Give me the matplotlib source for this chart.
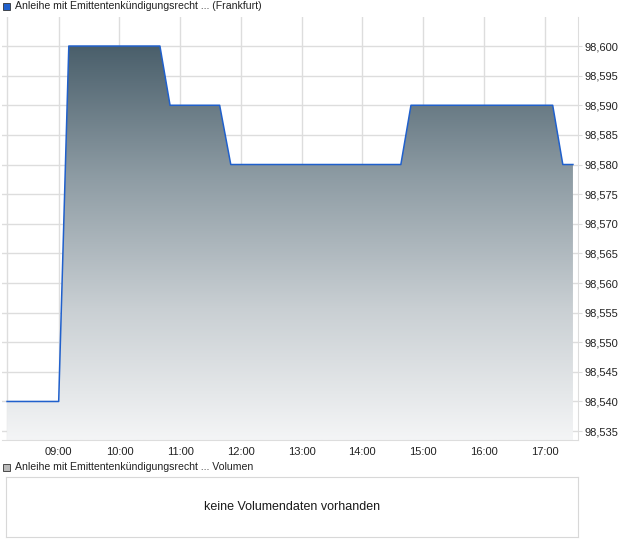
import matplotlib.pyplot as plt
import matplotlib.dates as mdates
import numpy as np
from matplotlib.colors import LinearSegmentedColormap
from datetime import datetime

plt.rcParams['font.family'] = ['Liberation Sans', 'DejaVu Sans']

# intraday quotes (Frankfurt)
times = ["08:09", "09:00", "09:10", "10:40", "10:50", "11:39", "11:50",
         "14:38", "14:48", "17:08", "17:18", "17:28"]
prices = [98.540, 98.540, 98.600, 98.600, 98.590, 98.590, 98.580,
          98.580, 98.590, 98.590, 98.580, 98.580]
hour_ticks = ["09:00", "10:00", "11:00", "12:00", "13:00", "14:00",
              "15:00", "16:00", "17:00"]
price_ticks = [98.535, 98.540, 98.545, 98.550, 98.555, 98.560, 98.565,
               98.570, 98.575, 98.580, 98.585, 98.590, 98.595, 98.600]

title_main = "Anleihe mit Emittentenkündigungsrecht ... (Frankfurt)"
title_vol = "Anleihe mit Emittentenkündigungsrecht ... Volumen"
no_volume = "keine Volumendaten vorhanden"

def to_dt(s):
    return datetime.strptime("2024-01-01 " + s, "%Y-%m-%d %H:%M")

x = mdates.date2num([to_dt(t) for t in times])
y = np.array(prices)
grid_col = "#dddddd"

fig = plt.figure(figsize=(6.2, 5.46), dpi=100)
W, H = 620, 546

ax = fig.add_axes([2 / W, 1 - 440 / H, 576 / W, 423 / H])
x0 = mdates.date2num(to_dt("08:04"))
x1 = mdates.date2num(to_dt("17:33"))
ylo, yhi = 98.5335, 98.6049
ax.set_xlim(x0, x1)
ax.set_ylim(ylo, yhi)

# gradient fill under line
cmap = LinearSegmentedColormap.from_list("g", ["#f4f5f6", "#c9cfd3", "#8e9ca4", "#4a5f6b"])
grad = np.linspace(0, 1, 256).reshape(-1, 1)
im = ax.imshow(grad, extent=[x0, x1, ylo, 98.600], origin="lower", aspect="auto",
               cmap=cmap, zorder=2)
poly = ax.fill_between(x, y, ylo, color="none", zorder=1)
clip = poly.get_paths()[0]
im.set_clip_path(clip, transform=ax.transData)
ax.plot(x, y, color="#2060cc", lw=1.1, zorder=3)

ax.set_xticks(mdates.date2num([to_dt(t) for t in hour_ticks]))
ax.set_xticklabels(hour_ticks)
ax.set_yticks(price_ticks)
ax.set_yticklabels(["{:.3f}".format(v).replace(".", ",") for v in price_ticks])
ax.yaxis.tick_right()
ax.grid(True, color=grid_col, lw=1, zorder=0)
ax.axvline(x[0], color=grid_col, lw=1, zorder=0)
ax.tick_params(axis="both", labelsize=8, colors=grid_col, labelcolor="#222222", length=3)
ax.tick_params(axis="y", pad=2)
ax.tick_params(axis="x", length=0, pad=5)
for side in ["top", "left"]:
    ax.spines[side].set_visible(False)
for side in ["right", "bottom"]:
    ax.spines[side].set_color(grid_col)

# legend-like headers
fig.patches.append(plt.Rectangle((3 / W, 1 - 10 / H), 7 / W, 7 / H, transform=fig.transFigure,
                                 facecolor="#2060cc", edgecolor="#333333", lw=0.6))
fig.text(15 / W, 1 - 6 / H, title_main, fontsize=7.6, va="center", color="#222222")
fig.patches.append(plt.Rectangle((3 / W, 1 - 471 / H), 7 / W, 7 / H, transform=fig.transFigure,
                                 facecolor="#bbbbbb", edgecolor="#333333", lw=0.6))
fig.text(15 / W, 1 - 467 / H, title_vol, fontsize=7.6, va="center", color="#222222")

# volume panel
vax = fig.add_axes([6 / W, 1 - 537 / H, 572 / W, 60 / H])
vax.set_xticks([])
vax.set_yticks([])
for s in vax.spines.values():
    s.set_color("#d8d8d8")
vax.text(0.5, 0.5, no_volume, ha="center", va="center", fontsize=9,
         color="#1a1a1a", transform=vax.transAxes)

fig.savefig("out.png", dpi=100)
